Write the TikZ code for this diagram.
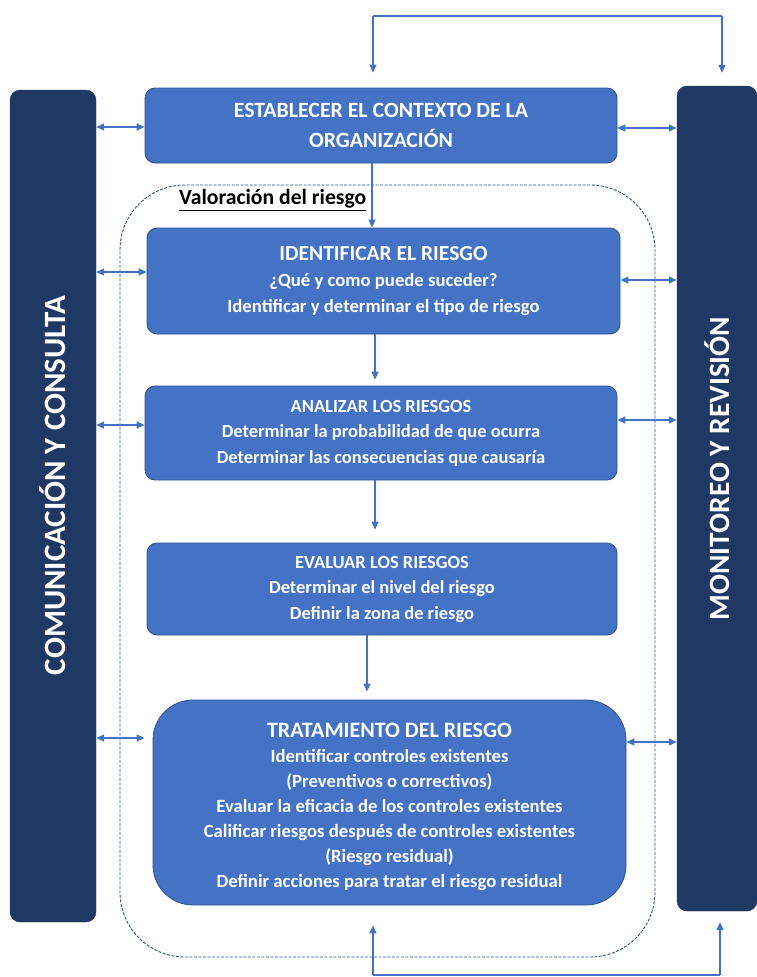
\documentclass[tikz,border=0pt]{standalone}
\usepackage{fontspec}
\setmainfont{Carlito}
\usetikzlibrary{arrows.meta,calc}
\definecolor{boxblue}{HTML}{4472C4}
\definecolor{boxedge}{HTML}{2F528F}
\definecolor{navy}{HTML}{203864}
\definecolor{arrblue}{HTML}{4472C4}
\definecolor{dashblue}{HTML}{2F4F8F}
\begin{document}
\begin{tikzpicture}[x=1pt,y=-1pt,
 stepbox/.style={draw=boxedge, line width=0.8pt, fill=boxblue, rounded corners=10pt, text=white,
   font=\bfseries\fontsize{18.5}{25.5}\selectfont, align=center, inner sep=0pt},
 bar/.style={draw=navy, fill=navy, rounded corners=10pt, inner sep=0pt},
 bartext/.style={text=white, font=\bfseries\fontsize{31}{33}\selectfont, rotate=90},
 flowline/.style={draw=arrblue, line width=1.3pt},
 arr/.style={flowline, -{Triangle[length=8pt,width=7pt]}},
 darr/.style={flowline, {Triangle[length=8pt,width=7pt]}-{Triangle[length=8pt,width=7pt]}},
 valzone/.style={draw=dashblue, line width=0.9pt, dash pattern=on 3pt off 1.5pt, rounded corners=65pt, inner sep=0pt},
]
\useasboundingbox (0,0) rectangle (757,977);

% side bars
\node[bar, minimum width=86pt, minimum height=832pt] (com) at (53,506) {};
\node[bartext] (comt) at (53,485.5) {COMUNICACIÓN Y CONSULTA};
\node[bar, minimum width=80pt, minimum height=825pt] (mon) at (717,498.5) {};
\node[bartext, font=\bfseries\fontsize{29.5}{31}\selectfont] (mont) at (717,468.5) {MONITOREO Y REVISIÓN};

% dashed zone
\node[valzone, minimum width=535pt, minimum height=772pt] (val) at (387.5,571) {};
\node[font=\bfseries\fontsize{21.7}{24}\selectfont, anchor=west, inner sep=0pt] (valt) at (179,200) {\underline{Valoración del riesgo}};

% boxes
\node[stepbox, minimum width=472pt, minimum height=75pt, font=\bfseries\fontsize{21.8}{29.5}\selectfont] (est) at (381,125.5)
 {ESTABLECER EL CONTEXTO DE LA\\ORGANIZACIÓN};
\node[stepbox, minimum width=473pt, minimum height=106pt, font=\bfseries\fontsize{18.7}{26}\selectfont] (ide) at (383.5,281)
 {{\fontsize{21.5}{26}\selectfont IDENTIFICAR EL RIESGO}\\¿Qué y como puede suceder?\\Identificar y determinar el tipo de riesgo};
\node[stepbox, minimum width=472pt, minimum height=94pt] (ana) at (381,433)
 {ANALIZAR LOS RIESGOS\\Determinar la probabilidad de que ocurra\\Determinar las consecuencias que causaría};
\node[stepbox, minimum width=470pt, minimum height=92pt] (eva) at (382,589)
 {EVALUAR LOS RIESGOS\\Determinar el nivel del riesgo\\Definir la zona de riesgo};
\node[stepbox, rounded corners=40pt, minimum width=473pt, minimum height=205pt, font=\bfseries\fontsize{18.7}{25}\selectfont] (tra) at (389.5,802.5)
 {\rule{0pt}{24pt}{\fontsize{22}{26}\selectfont TRATAMIENTO DEL RIESGO}\\Identificar controles existentes\\(Preventivos o correctivos)\\Evaluar la eficacia de los controles existentes\\Calificar riesgos después de controles existentes\\(Riesgo residual)\\Definir acciones para tratar el riesgo residual};

% vertical flow
\draw[arr] ([xshift=-9pt]est.south) -- ([xshift=-11.5pt]ide.north);
\draw[arr, shorten >=6pt] ([xshift=-8.5pt]ide.south) -- ([xshift=-6pt]ana.north);
\draw[arr, shorten >=13pt] ([xshift=-6pt]ana.south) -- ([xshift=-7pt]eva.north);
\draw[arr, shorten >=8pt] ([xshift=-15pt]eva.south) -- ([xshift=-22.5pt]tra.north);

% side double arrows
\coordinate (l1) at (0,127); \coordinate (l2) at (0,272);
\coordinate (l3) at (0,425); \coordinate (l4) at (0,738);
\coordinate (r1) at (0,128); \coordinate (r2) at (0,280);
\coordinate (r3) at (0,420); \coordinate (r4) at (0,742);
\draw[darr] (com.east |- l1) -- (est.west |- l1);
\draw[darr] (com.east |- l2) -- (ide.west |- l2);
\draw[darr] (com.east |- l3) -- (ana.west |- l3);
\draw[darr, shorten >=8pt] (com.east |- l4) -- (tra.west |- l4);
\draw[darr] (est.east |- r1) -- (mon.west |- r1);
\draw[darr] (ide.east |- r2) -- (mon.west |- r2);
\draw[darr] (ana.east |- r3) -- (mon.west |- r3);
\draw[darr] (tra.east |- r4) -- (mon.west |- r4);

% feedback loops
\coordinate (tl) at (373,16); \coordinate (tr) at (722,16);
\draw[flowline, line width=1.1pt] (tl) -- (tr);
\draw[arr, shorten >=15pt] (tl) -- (tl |- est.north);
\draw[arr, shorten >=13pt] (tr) -- (tr |- mon.north);
\coordinate (bl) at (373,975); \coordinate (br) at (720,975);
\draw[flowline, line width=1.1pt] (bl) -- (br);
\draw[arr, shorten >=20pt] (bl) -- (bl |- tra.south);
\draw[arr, shorten >=11pt] (br) -- (br |- mon.south);
\end{tikzpicture}
\end{document}
